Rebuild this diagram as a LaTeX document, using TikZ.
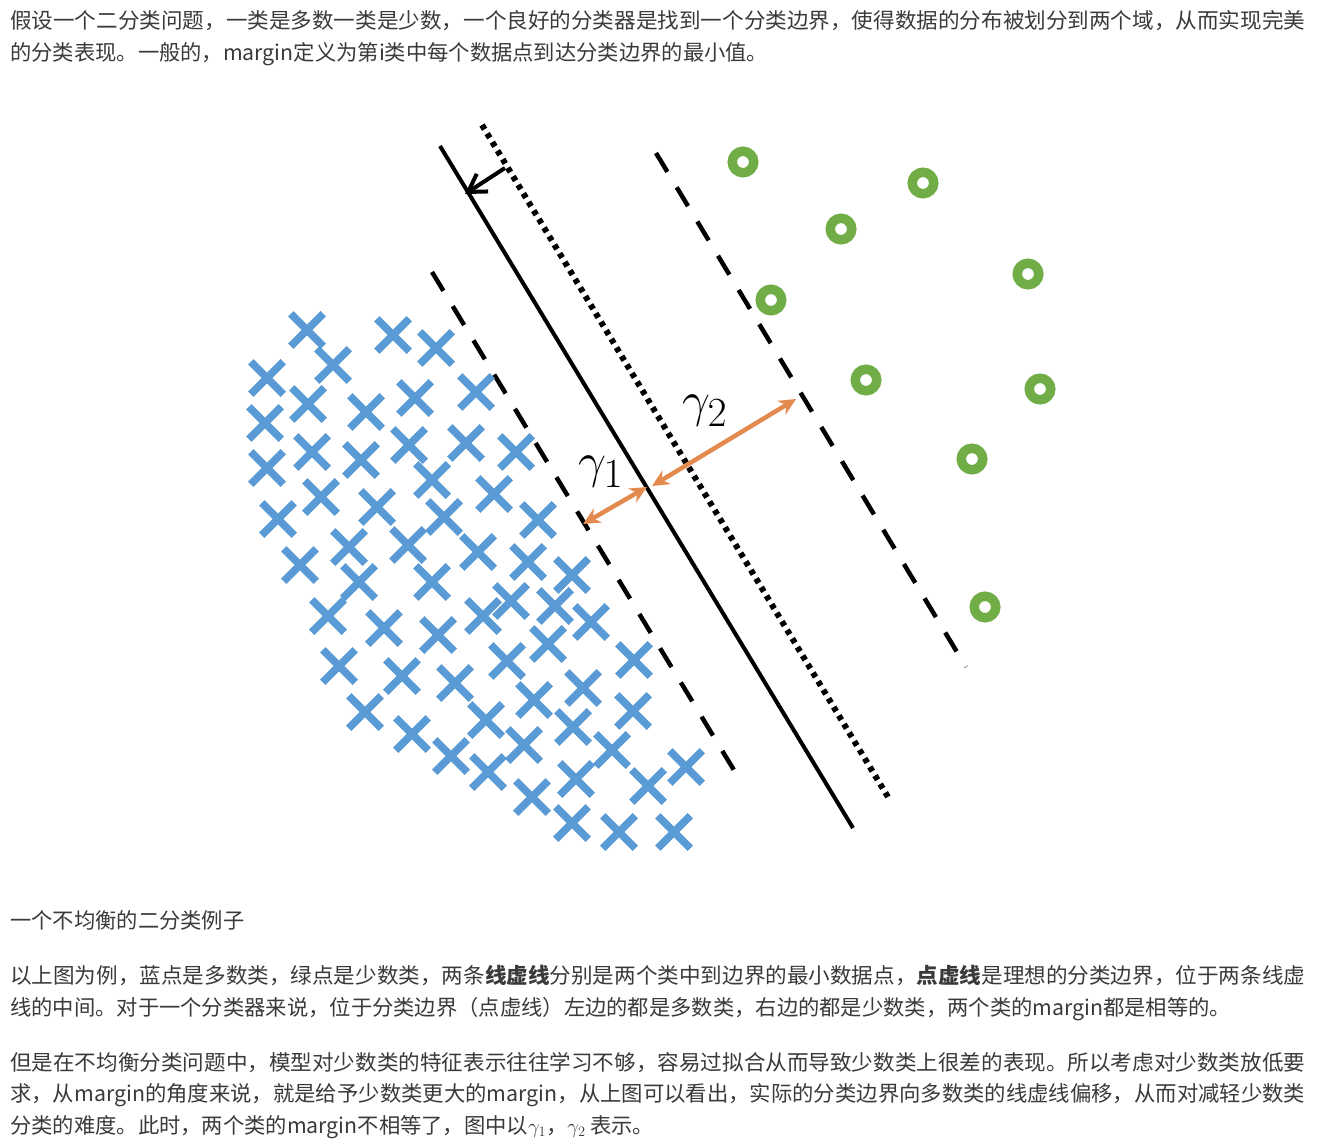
\documentclass[tikz,border=0pt]{standalone}
\usepackage{fontspec}
\usepackage{xcolor}
\usetikzlibrary{arrows.meta,shapes.misc}
\newfontfamily\cjk{Noto Sans CJK SC}

\definecolor{xblue}{HTML}{5B9BD5}
\definecolor{ogreen}{HTML}{70AD47}
\definecolor{gorange}{HTML}{E38B4F}
\definecolor{txtgray}{HTML}{3A3A3A}

% justified line of the page text
\newcommand{\fullline}[1]{\resizebox{1295pt}{\height}{#1}}
% big margin label
\newcommand{\biglbl}[1]{\scalebox{2}{\fontsize{24.88}{25}\selectfont$#1$}}

\begin{document}
\begin{tikzpicture}[x=1pt,y=-1pt,
  para/.style={anchor=base west,inner sep=0pt,text=txtgray,font=\cjk\fontsize{21.3}{26}\selectfont},
  major/.style={draw=xblue,cross out,line width=7.5pt,minimum size=25pt,inner sep=0pt},
  minor/.style={draw=ogreen,circle,line width=9.5pt,minimum size=21.5pt,inner sep=0pt},
  gap/.style={{Stealth[length=17pt,width=16pt]}-{Stealth[length=17pt,width=16pt]},draw=gorange,line width=4.5pt},
  lbl/.style={inner sep=0pt}
]
  % Page
  \fill[white] (0,0) rectangle (1319,1142);
  \useasboundingbox (0,0) rectangle (1319,1142);

  % Text above
  \node[para] (p1a) at (10,29) {\fullline{假设一个二分类问题，一类是多数一类是少数，一个良好的分类器是找到一个分类边界，使得数据的分布被划分到两个域，从而实现完美}};
  \node[para] (p1b) at (10,61) {的分类表现。一般的，margin定义为第i类中每个数据点到达分类边界的最小值。};

  % Boundaries
  \coordinate (solidT) at (440,146);  \coordinate (solidB) at (853,828);
  \coordinate (dotT) at (482,125);    \coordinate (dotB) at (888,797);
  \coordinate (leftT) at (432,272);   \coordinate (leftB) at (743,785);
  \coordinate (rightT) at (656,153);  \coordinate (rightB) at (966,667);
  \draw[line width=4pt] (solidT) -- (solidB);
  \draw[line width=6pt,dash pattern=on 5pt off 5pt] (dotT) -- (dotB);
  \draw[line width=4.5pt,dash pattern=on 22pt off 18pt] (leftT) -- (leftB);
  \draw[line width=4.5pt,dash pattern=on 22pt off 18pt] (rightT) -- (rightB);

  % Shift of the boundary
  \coordinate (pushS) at (505,168);
  \coordinate (pushE) at (465,194);
  \draw[-{Straight Barb[length=17pt,width=21pt]},line width=4pt] (pushS) -- (pushE);

  % Majority class
  \foreach \px/\py [count=\i] in {307/330,393/335,436/348,333/365,267/378,308/404,366/412,415/398,476/392,
    265/423,312/452,361/460,409/445,466/443,516/452,267/468,432/480,321/497,377/507,494/494,
    278/519,444/517,538/520,349/547,408/545,478/552,300/565,359/582,432/582,528/562,572/575,
    511/601,555/606,328/616,384/628,438/635,483/616,591/622,548/644,634/660,339/666,402/676,
    455/683,507/661,583/688,365/712,534/700,486/720,573/727,633/711,412/734,451/756,524/745,
    612/750,686/767,488/772,576/779,648/786,532/797,572/823,619/832,674/832}
    \node[major] (maj\i) at (\px,\py) {};

  % Minority class
  \foreach \px/\py [count=\i] in {743/162,923/183,841/229,1028/274,771/300,866/380,1040/389,972/459,985/607}
    \node[minor] (min\i) at (\px,\py) {};

  % Margins
  \coordinate (m1a) at (583,524); \coordinate (m1b) at (647,487);
  \coordinate (m2a) at (652,486); \coordinate (m2b) at (796,399);
  \draw[gap] (m1a) -- (m1b);
  \draw[gap] (m2a) -- (m2b);
  \node[lbl] (g1) at (601,472) {\biglbl{\gamma_1}};
  \node[lbl] (g2) at (705,411) {\biglbl{\gamma_2}};

  % Text below
  \node[para] (cap) at (10,928) {一个不均衡的二分类例子};
  \node[para] (p2a) at (10,983) {\fullline{以上图为例，蓝点是多数类，绿点是少数类，两条\textbf{线虚线}分别是两个类中到边界的最小数据点，\textbf{点虚线}是理想的分类边界，位于两条线虚}};
  \node[para] (p2b) at (10,1015) {线的中间。对于一个分类器来说，位于分类边界（点虚线）左边的都是多数类，右边的都是少数类，两个类的margin都是相等的。};
  \node[para] (p3a) at (10,1070) {\fullline{但是在不均衡分类问题中，模型对少数类的特征表示往往学习不够，容易过拟合从而导致少数类上很差的表现。所以考虑对少数类放低要}};
  \node[para] (p3b) at (10,1101) {\fullline{求，从margin的角度来说，就是给予少数类更大的margin，从上图可以看出，实际的分类边界向多数类的线虚线偏移，从而对减轻少数类}};
  \node[para] (p3c) at (10,1133) {分类的难度。此时，两个类的margin不相等了，图中以$\gamma_1$，$\gamma_2$ 表示。};
\end{tikzpicture}
\end{document}
